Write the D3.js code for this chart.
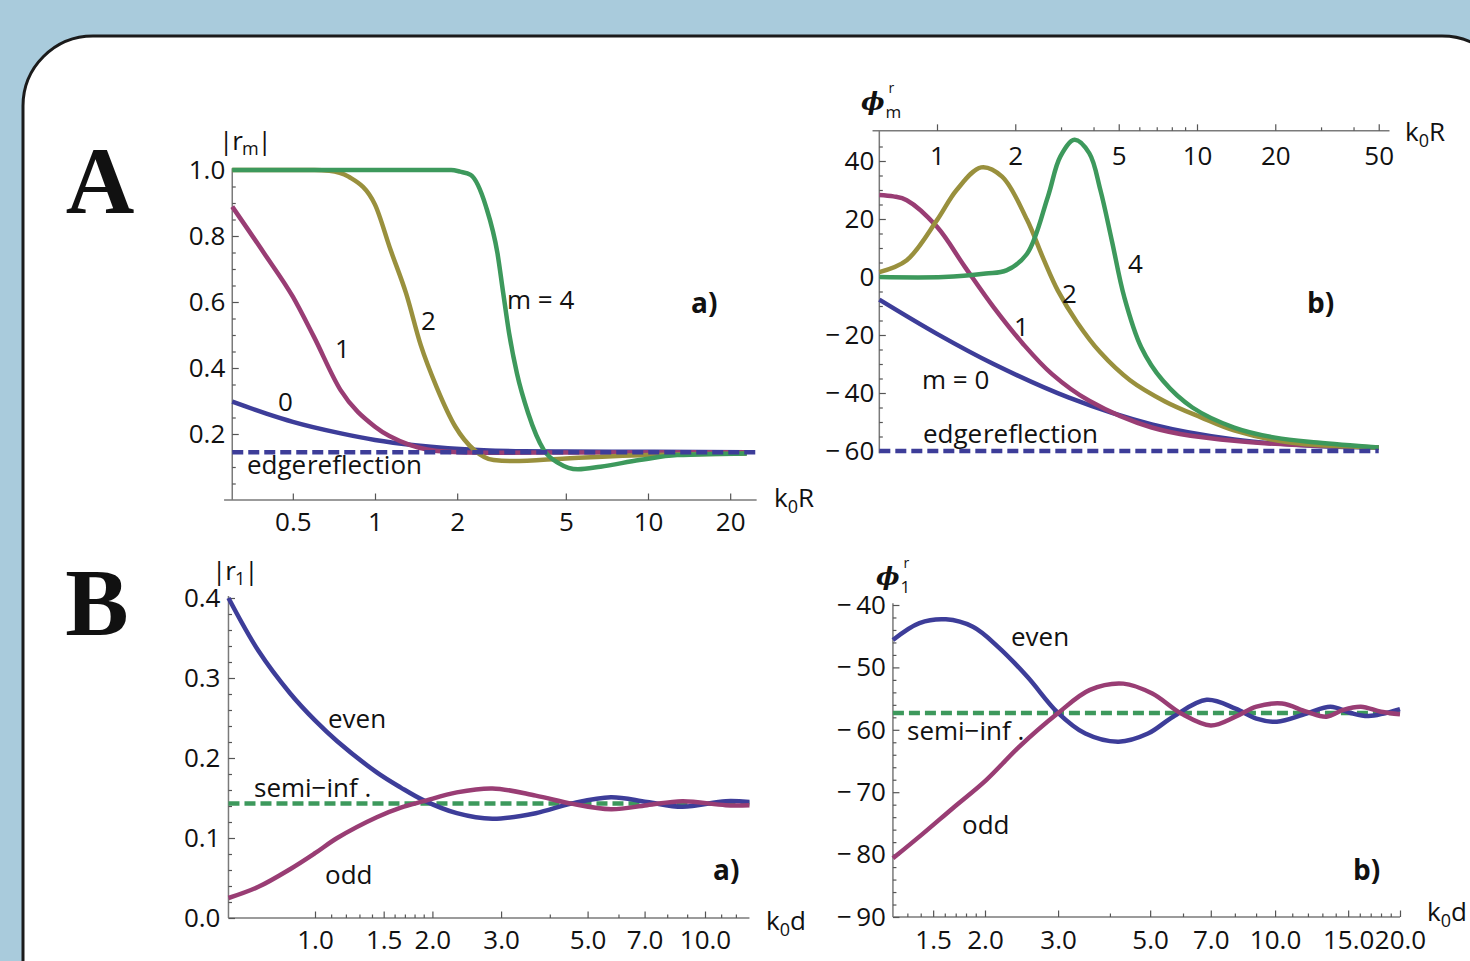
<!DOCTYPE html>
<html><head><meta charset="utf-8">
<script src="https://cdn.jsdelivr.net/npm/d3@7"></script>
<style>
html,body{margin:0;padding:0;background:#a9cbdc;overflow:hidden;}
svg{display:block;}
</style></head><body>
<svg id="chart" width="1470" height="961"></svg>
<script>
// ---------- Panel A a) |r_m| vs k0R ----------
const aa_m0_x = [0.3, 0.4, 0.5, 0.75, 1.0, 1.4, 1.85, 2.5, 3.5, 5, 10, 23];
const aa_m0_y = [0.298, 0.262, 0.237, 0.202, 0.182, 0.166, 0.157, 0.151, 0.148, 0.147, 0.146, 0.145];
const aa_m1_x = [0.3, 0.393, 0.5, 0.597, 0.748, 1.0, 1.34, 1.85, 2.5, 5, 23];
const aa_m1_y = [0.889, 0.747, 0.616, 0.495, 0.333, 0.222, 0.167, 0.146, 0.143, 0.144, 0.145];
const aa_m2_x = [0.3, 0.6, 0.68, 0.8, 1.0, 1.14, 1.30, 1.47, 1.68, 1.97, 2.32, 2.72, 3.2, 5, 10, 23];
const aa_m2_y = [1, 1, 0.998, 0.98, 0.895, 0.758, 0.626, 0.47, 0.343, 0.222, 0.15, 0.121, 0.118, 0.126, 0.136, 0.141];
const aa_m4_x = [0.3, 1.9, 2.05, 2.24, 2.55, 2.81, 2.95, 3.10, 3.31, 3.64, 4.15, 4.72, 5.54, 6.7, 9.3, 12.8, 23];
const aa_m4_y = [1, 1, 0.995, 0.985, 0.889, 0.747, 0.626, 0.505, 0.384, 0.263, 0.152, 0.111, 0.093, 0.101, 0.121, 0.136, 0.141];
const aa_edge = 0.145;
const aa_xTicks = [0.5, 1, 2, 5, 10, 20];
const aa_xTickLabels = ["0.5", "1", "2", "5", "10", "20"];
const aa_yTicks = [0.2, 0.4, 0.6, 0.8, 1.0];
const aa_yTickLabels = ["0.2", "0.4", "0.6", "0.8", "1.0"];
const aa_yMinor = [0.05, 0.1, 0.15, 0.25, 0.3, 0.35, 0.45, 0.5, 0.55, 0.65, 0.7, 0.75, 0.85, 0.9, 0.95];

// ---------- Panel A b) phi_m vs k0R ----------
const ab_m0_x = [0.6, 1.0, 1.65, 3.2, 6.7, 13.9, 29, 50];
const ab_m0_y = [-7.8, -19.6, -30, -41.5, -50.8, -56, -58.3, -58.8];
const ab_m1_x = [0.6, 0.68, 0.765, 1.0, 1.28, 1.65, 2.14, 2.77, 3.85, 6.7, 13.9, 50];
const ab_m1_y = [28.3, 27.8, 26.5, 17.3, 3.5, -10.4, -23, -33.5, -42.7, -51.9, -56.5, -58.8];
const ab_m2_x = [0.6, 0.765, 1.0, 1.19, 1.48, 1.78, 2.22, 2.557, 2.92, 3.456, 4.236, 5.525, 7.53, 10.36, 13.88, 22.8, 50];
const ab_m2_y = [1.7, 5.8, 19.6, 30, 37.8, 34.6, 19.7, 6.6, -4.8, -15.6, -25.9, -35.6, -42.9, -48.4, -52.9, -57.1, -58.8];
const ab_m4_x = [0.6, 1.06, 1.54, 1.85, 2.22, 2.67, 2.98, 3.38, 3.85, 4.25, 4.7, 5.25, 6.1, 7.4, 9.6, 13.9, 20, 29, 50];
const ab_m4_y = [0, 0, 1.2, 2.3, 8, 27.7, 41.5, 47.3, 42.7, 30, 12.7, -6.9, -24.2, -35.8, -45, -51.9, -55.4, -57.1, -58.8];
const ab_edge = -60;
const ab_xTicks = [1, 2, 5, 10, 20, 50];
const ab_xTickLabels = ["1", "2", "5", "10", "20", "50"];
const ab_xMinor = [3, 4, 6, 7, 8, 9, 30, 40];
const ab_yTicks = [40, 20, 0, -20, -40, -60];
const ab_yTickLabels = ["40", "20", "0", "\u2212\u200920", "\u2212\u200940", "\u2212\u200960"];
const ab_yMinor = [45, 35, 30, 25, 15, 10, 5, -5, -10, -15, -25, -30, -35, -45, -50, -55];

// ---------- Panel B a) |r_1| vs k0d ----------
const ba_x = [0.6, 0.716, 0.863, 1.0, 1.14, 1.44, 1.66, 1.9, 2.31, 2.85, 3.68, 4.54, 5.74, 7.1, 8.75, 11.3, 13];
const ba_even = [0.4, 0.334, 0.281, 0.247, 0.221, 0.182, 0.163, 0.147, 0.131, 0.124, 0.131, 0.143, 0.151, 0.145, 0.139, 0.146, 0.145];
const ba_odd = [0.025, 0.039, 0.061, 0.081, 0.1, 0.126, 0.138, 0.146, 0.157, 0.162, 0.153, 0.143, 0.136, 0.141, 0.146, 0.141, 0.141];
const ba_semi = 0.143;
const ba_xTicks = [1.0, 1.5, 2.0, 3.0, 5.0, 7.0, 10.0];
const ba_xTickLabels = ["1.0", "1.5", "2.0", "3.0", "5.0", "7.0", "10.0"];
const ba_xMinor = [1.1, 1.2, 1.3, 1.4, 1.6, 1.7, 1.8, 1.9, 4, 6, 8, 9, 11, 12];
const ba_yTicks = [0.0, 0.1, 0.2, 0.3, 0.4];
const ba_yTickLabels = ["0.0", "0.1", "0.2", "0.3", "0.4"];
const ba_yMinor = [0.02, 0.04, 0.06, 0.08, 0.12, 0.14, 0.16, 0.18, 0.22, 0.24, 0.26, 0.28, 0.32, 0.34, 0.36, 0.38];

// ---------- Panel B b) phi_1 vs k0d ----------
const bb_even_x = [1.2, 1.39, 1.61, 1.87, 2.15, 2.53, 2.99, 3.49, 4.2, 4.94, 5.68, 6.84, 8.03, 9.02, 10.1, 11.9, 13.6, 15.2, 16.8, 20];
const bb_even_y = [-45.6, -42.9, -42.3, -43.5, -46.7, -51.5, -57.2, -60.6, -61.9, -60.6, -57.9, -55.2, -56.6, -58.2, -58.7, -57.4, -56.3, -57.3, -57.8, -56.7];
const bb_odd_x = [1.2, 1.42, 1.67, 2.01, 2.42, 2.99, 3.58, 4.31, 5.06, 5.94, 7.0, 8.03, 9.02, 10.4, 11.9, 13.3, 14.6, 16.1, 18.0, 20];
const bb_odd_y = [-80.6, -76.6, -72.6, -68.1, -62.7, -57.4, -53.6, -52.6, -54.2, -57.4, -59.3, -57.9, -56.3, -55.8, -57.1, -57.9, -56.8, -56.3, -57.1, -57.5];
const bb_semi = -57.3;
const bb_xTicks = [1.5, 2.0, 3.0, 5.0, 7.0, 10.0, 15.0, 20.0];
const bb_xTickLabels = ["1.5", "2.0", "3.0", "5.0", "7.0", "10.0", "15.0", "20.0"];
const bb_xMinor = [1.3, 1.4, 1.6, 1.7, 1.8, 1.9, 4, 6, 8, 9, 11, 12, 13, 14, 16, 17, 18, 19];
const bb_yTicks = [-40, -50, -60, -70, -80, -90];
const bb_yTickLabels = ["\u2212\u200940", "\u2212\u200950", "\u2212\u200960", "\u2212\u200970", "\u2212\u200980", "\u2212\u200990"];
const bb_yMinor = [-42, -44, -46, -48, -52, -54, -56, -58, -62, -64, -66, -68, -72, -74, -76, -78, -82, -84, -86, -88];

// ---------- styling ----------
const C_BLUE = "#3d3d99", C_MAG = "#993d74", C_OLIVE = "#99903d", C_GREEN = "#3d995c";
const FONT = "'Open Sans', 'Noto Sans', sans-serif";
const AXIS_COLOR = "#7a7a7a";
const LW = 4.5;

const svg = d3.select("#chart");
svg.append("rect").attr("width", 1470).attr("height", 961).attr("fill", "#a9cbdc");
svg.append("rect").attr("x", 23).attr("y", 36).attr("width", 1489).attr("height", 1000)
  .attr("rx", 70).attr("ry", 70).attr("fill", "#ffffff").attr("stroke", "#1b1b1b").attr("stroke-width", 3);

function zip(xs, ys) { return xs.map((v, i) => [v, ys[i]]); }

function makeLog(v1, p1, v2, p2) {
  return d3.scaleLog().domain([v1, v2]).range([p1, p2]);
}

function drawPanel(cfg) {
  const g = svg.append("g");
  const x = cfg.x, y = cfg.y;
  const xAxisY = y(cfg.xAxisAt);
  const yAxisX = x(cfg.yAxisAt);

  g.append("line").attr("x1", x(cfg.xExtent[0])).attr("x2", x(cfg.xExtent[1]))
    .attr("y1", xAxisY).attr("y2", xAxisY).attr("stroke", AXIS_COLOR).attr("stroke-width", 1.5);
  g.append("line").attr("x1", yAxisX).attr("x2", yAxisX)
    .attr("y1", y(cfg.yExtent[0])).attr("y2", y(cfg.yExtent[1])).attr("stroke", AXIS_COLOR).attr("stroke-width", 1.5);

  function styleAxis(sel) {
    sel.select(".domain").remove();
    sel.selectAll(".tick line").attr("stroke", "#555").attr("stroke-width", 1.2);
    sel.selectAll(".tick text").attr("fill", "#111").style("font-family", FONT).style("font-size", "26px");
  }

  const xa = d3.axisBottom(x).tickValues(cfg.xTicks).tickFormat((d, i) => cfg.xTickLabels[i])
    .tickSizeInner(-6.5).tickSizeOuter(0).tickPadding(cfg.xPad);
  g.append("g").attr("transform", `translate(0,${xAxisY})`).call(xa).call(styleAxis);
  if (cfg.xMinor) {
    const xm = d3.axisBottom(x).tickValues(cfg.xMinor).tickFormat("").tickSizeInner(-3.5).tickSizeOuter(0);
    g.append("g").attr("transform", `translate(0,${xAxisY})`).call(xm).call(styleAxis);
  }
  const ya = d3.axisLeft(y).tickValues(cfg.yTicks).tickFormat((d, i) => cfg.yTickLabels[i])
    .tickSizeInner(-6.5).tickSizeOuter(0).tickPadding(cfg.yPad);
  g.append("g").attr("transform", `translate(${yAxisX},0)`).call(ya).call(styleAxis);
  if (cfg.yMinor) {
    const ym = d3.axisLeft(y).tickValues(cfg.yMinor).tickFormat("").tickSizeInner(-3.5).tickSizeOuter(0);
    g.append("g").attr("transform", `translate(${yAxisX},0)`).call(ym).call(styleAxis);
  }

  const line = d3.line().x(d => x(d[0])).y(d => y(d[1])).curve(cfg.curve || d3.curveMonotoneX);
  const straight = d3.line().x(d => x(d[0])).y(d => y(d[1]));
  function dashed() {
    g.append("path").datum(cfg.dashed.pts).attr("d", straight).attr("fill", "none")
      .attr("stroke", cfg.dashed.color).attr("stroke-width", LW).attr("stroke-dasharray", "11,5");
  }
  if (!cfg.dashedOnTop) dashed();
  cfg.series.forEach(s => {
    g.append("path").datum(s.pts).attr("d", line).attr("fill", "none")
      .attr("stroke", s.color).attr("stroke-width", LW).attr("stroke-linejoin", "round");
  });
  if (cfg.dashedOnTop) dashed();
  return g;
}

function label(x, y, s, size, opts) {
  opts = opts || {};
  return svg.append("text").attr("x", x).attr("y", y).text(s)
    .style("font-family", opts.family || FONT).style("font-size", size + "px")
    .style("font-weight", opts.bold ? "bold" : "normal")
    .style("font-style", opts.italic ? "italic" : "normal")
    .attr("fill", "#111").attr("text-anchor", opts.anchor || "start");
}
function kLabel(x, y, last) {
  const t = svg.append("text").attr("x", x).attr("y", y).attr("fill", "#111")
    .style("font-family", FONT).style("font-size", "26px");
  t.append("tspan").text("k");
  t.append("tspan").text("0").style("font-size", "18px").attr("dy", 6);
  t.append("tspan").text(last).attr("dy", -6);
}
function absLabel(x, y, sub) {
  const t = svg.append("text").attr("x", x).attr("y", y).attr("fill", "#111")
    .style("font-family", FONT).style("font-size", "26px").attr("letter-spacing", "-1");
  t.append("tspan").text("|r");
  t.append("tspan").text(sub).style("font-size", "18px").attr("dy", 5);
  t.append("tspan").text("|").attr("dy", -5);
}
function phiLabel(x, y, sub) {
  const p = label(x, y, "\u03D5", 25, { family: "'DejaVu Serif', serif", bold: true, italic: true });
  const w = p.node().getComputedTextLength();
  label(x + w + 4, y - 17, "r", 14);
  label(x + w + 1, y + 8, sub, 17);
}

// ---------- Panel A a ----------
{
  const x = makeLog(1, 375, 10, 648);
  const y = d3.scaleLinear().domain([0, 1]).range([500, 170]);
  drawPanel({
    x, y, xAxisAt: 0, yAxisAt: 0.3, xExtent: [0.28, 25], yExtent: [0, 1.005],
    xTicks: aa_xTicks, xTickLabels: aa_xTickLabels, xPad: 13,
    yTicks: aa_yTicks, yTickLabels: aa_yTickLabels, yMinor: aa_yMinor, yPad: 7,
    dashed: { pts: [[0.3, aa_edge], [25, aa_edge]], color: C_BLUE }, dashedOnTop: true,
    series: [
      { pts: zip(aa_m0_x, aa_m0_y), color: C_BLUE },
      { pts: zip(aa_m1_x, aa_m1_y), color: C_MAG },
      { pts: zip(aa_m2_x, aa_m2_y), color: C_OLIVE },
      { pts: zip(aa_m4_x, aa_m4_y), color: C_GREEN }
    ]
  });
  label(507, 309, "m = 4", 26);
  label(421, 330, "2", 26);
  label(335, 358, "1", 26);
  label(278, 411, "0", 26);
  label(247, 474, "edge reflection", 26).attr("word-spacing", "-6");
  label(691, 313, "a)", 28, { bold: true });
  kLabel(774, 507, "R");
  absLabel(219, 150, "m");
}

// ---------- Panel A b ----------
{
  const x = makeLog(1, 937, 10, 1197);
  const y = d3.scaleLinear().domain([0, -60]).range([277, 451]);
  drawPanel({
    x, y, xAxisAt: 50.4, yAxisAt: 0.6, xExtent: [0.565, 55], yExtent: [-60.8, 50.4],
    xTicks: ab_xTicks, xTickLabels: ab_xTickLabels, xMinor: ab_xMinor, xPad: 16,
    yTicks: ab_yTicks, yTickLabels: ab_yTickLabels, yMinor: ab_yMinor, yPad: 5,
    dashed: { pts: [[0.6, ab_edge], [50, ab_edge]], color: C_BLUE }, dashedOnTop: true,
    curve: d3.curveCatmullRom.alpha(0.5),
    series: [
      { pts: zip(ab_m0_x, ab_m0_y), color: C_BLUE },
      { pts: zip(ab_m1_x, ab_m1_y), color: C_MAG },
      { pts: zip(ab_m2_x, ab_m2_y), color: C_OLIVE },
      { pts: zip(ab_m4_x, ab_m4_y), color: C_GREEN }
    ]
  });
  label(1128, 273, "4", 26);
  label(1062, 303, "2", 26);
  label(1014, 336, "1", 26);
  label(922, 389, "m = 0", 26);
  label(923, 443, "edge reflection", 26).attr("word-spacing", "-6");
  label(1307, 313, "b)", 28, { bold: true });
  kLabel(1405, 141, "R");
  phiLabel(861, 110, "m");
}

// ---------- Panel B a ----------
{
  const x = makeLog(1, 315, 10, 705);
  const y = d3.scaleLinear().domain([0, 0.4]).range([918, 598]);
  drawPanel({
    x, y, xAxisAt: 0, yAxisAt: 0.6, xExtent: [0.6, 13], yExtent: [0, 0.4025],
    xTicks: ba_xTicks, xTickLabels: ba_xTickLabels, xMinor: ba_xMinor, xPad: 13,
    yTicks: ba_yTicks, yTickLabels: ba_yTickLabels, yMinor: ba_yMinor, yPad: 8,
    dashed: { pts: [[0.6, ba_semi], [13, ba_semi]], color: C_GREEN }, dashedOnTop: false,
    curve: d3.curveCatmullRom.alpha(0.5),
    series: [
      { pts: zip(ba_x, ba_even), color: C_BLUE },
      { pts: zip(ba_x, ba_odd), color: C_MAG }
    ]
  });
  label(328, 728, "even", 26);
  label(254, 797, "semi\u2212inf .", 26);
  label(325, 884, "odd", 26);
  label(713, 880, "a)", 28, { bold: true });
  kLabel(766, 930, "d");
  absLabel(212, 580, "1");
}

// ---------- Panel B b ----------
{
  const x = makeLog(2, 985, 20, 1400);
  const y = d3.scaleLinear().domain([-40, -90]).range([605, 917]);
  drawPanel({
    x, y, xAxisAt: -90, yAxisAt: 1.2, xExtent: [1.2, 20], yExtent: [-90, -39.7],
    xTicks: bb_xTicks, xTickLabels: bb_xTickLabels, xMinor: bb_xMinor, xPad: 14,
    yTicks: bb_yTicks, yTickLabels: bb_yTickLabels, yMinor: bb_yMinor, yPad: 7,
    dashed: { pts: [[1.2, bb_semi], [20, bb_semi]], color: C_GREEN }, dashedOnTop: false,
    curve: d3.curveCatmullRom.alpha(0.5),
    series: [
      { pts: zip(bb_even_x, bb_even_y), color: C_BLUE },
      { pts: zip(bb_odd_x, bb_odd_y), color: C_MAG }
    ]
  });
  label(1011, 646, "even", 26);
  label(907, 740, "semi\u2212inf .", 26);
  label(962, 834, "odd", 26);
  label(1353, 880, "b)", 28, { bold: true });
  kLabel(1427, 921, "d");
  phiLabel(876, 585, "1");
}

label(100, 213, "A", 95, { family: "'Liberation Serif', 'DejaVu Serif', serif", bold: true, anchor: "middle" });
label(97, 635, "B", 95, { family: "'Liberation Serif', 'DejaVu Serif', serif", bold: true, anchor: "middle" });
</script>
</body></html>
